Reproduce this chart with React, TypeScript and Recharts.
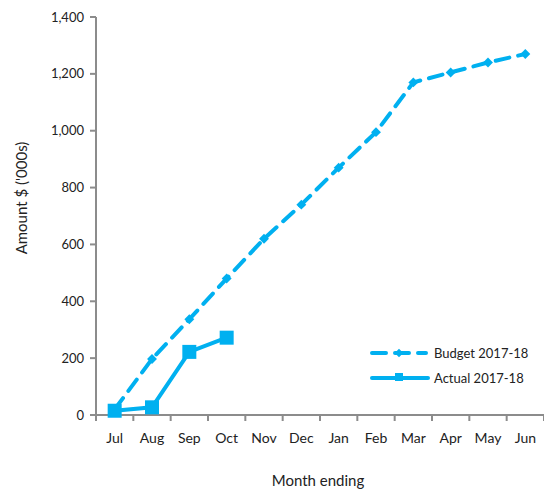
import React from 'react';
import { LineChart, Line, XAxis, YAxis, Label } from 'recharts';

const months = ['Jul', 'Aug', 'Sep', 'Oct', 'Nov', 'Dec', 'Jan', 'Feb', 'Mar', 'Apr', 'May', 'Jun'];
const budget = [20, 197, 337, 480, 620, 740, 870, 995, 1170, 1205, 1240, 1270];
const actual: (number | null)[] = [15, 27, 222, 272, null, null, null, null, null, null, null, null];
const yTicks = [0, 200, 400, 600, 800, 1000, 1200, 1400];

const data = months.map((m, i) => ({ month: m, budget: budget[i], actual: actual[i] }));

const COLOR = '#00B0F0';
const AXIS = '#8c8c8c';
const FONT = 'Lato, "Open Sans", sans-serif';
const BAND = 448 / 12;

const BudgetDot = (props: any) => {
  const { cx, cy } = props;
  if (cx == null || cy == null) return null;
  return <rect x={cx - 3.5} y={cy - 3.5} width={7} height={7} fill={COLOR} transform={`rotate(45 ${cx} ${cy})`} />;
};

const ActualDot = (props: any) => {
  const { cx, cy } = props;
  if (cx == null || cy == null) return null;
  return <rect x={cx - 7} y={cy - 7} width={14} height={14} fill={COLOR} />;
};

const MonthTick = (props: any) => {
  const { x, y, payload, index } = props;
  const axisY = y - 14;
  return (
    <g>
      <line x1={x - BAND / 2} y1={axisY} x2={x - BAND / 2} y2={axisY + 6} stroke={AXIS} strokeWidth={2} />
      {index === months.length - 1 && (
        <line x1={x + BAND / 2} y1={axisY} x2={x + BAND / 2} y2={axisY + 6} stroke={AXIS} strokeWidth={2} />
      )}
      <text x={x} y={axisY + 28} textAnchor="middle" fontSize={14} fill="#222" fontFamily={FONT}>
        {payload.value}
      </text>
    </g>
  );
};

const LegendBox = () => (
  <svg width={180} height={80} style={{ position: 'absolute', left: 368, top: 340, overflow: 'visible' }}>
    <line x1={4} y1={13} x2={58} y2={13} stroke={COLOR} strokeWidth={4} strokeDasharray="14 9" strokeLinecap="round" />
    <rect x={28} y={10} width={6} height={6} fill={COLOR} transform="rotate(45 31 13)" />
    <text x={66} y={18} fontSize={13} fill="#222" fontFamily={FONT}>Budget 2017-18</text>
    <line x1={4} y1={38} x2={60} y2={38} stroke={COLOR} strokeWidth={4} strokeLinecap="round" />
    <rect x={27} y={33} width={8} height={8} fill={COLOR} />
    <text x={66} y={43} fontSize={13} fill="#222" fontFamily={FONT}>Actual 2017-18</text>
  </svg>
);

export default function App() {
  return (
    <div style={{ position: 'absolute', left: 0, top: 0, width: 544, height: 490, background: '#fff' }}>
      <LineChart width={544} height={490} data={data} margin={{ top: 17, right: 0, bottom: 0, left: 0 }}>
        <XAxis
          dataKey="month"
          height={75}
          padding={{ left: BAND / 2, right: BAND / 2 }}
          stroke={AXIS}
          strokeWidth={2}
          tickLine={false}
          tickSize={6}
          tickMargin={8}
          tick={<MonthTick />}
          interval={0}
        >
          <Label
            content={() => (
              <text x={318} y={486} textAnchor="middle" fontSize={15} fill="#222" fontFamily={FONT}>
                Month ending
              </text>
            )}
          />
        </XAxis>
        <YAxis
          width={96}
          domain={[0, 1400]}
          ticks={yTicks}
          stroke={AXIS}
          strokeWidth={2}
          tickSize={6}
          tickMargin={6}
          tick={{ fill: '#222', fontSize: 13, fontFamily: FONT }}
          tickFormatter={(v: number) => v.toLocaleString('en-US')}
        >
          <Label
            content={() => (
              <text x={27} y={198} textAnchor="middle" fontSize={15} fill="#222" fontFamily={FONT} transform="rotate(-90 27 198)">
                Amount $ ('000s)
              </text>
            )}
          />
        </YAxis>
        <Line
          dataKey="budget"
          stroke={COLOR}
          strokeWidth={4}
          strokeDasharray="14 9"
          strokeLinecap="round"
          dot={<BudgetDot />}
          activeDot={false}
          isAnimationActive={false}
        />
        <Line
          dataKey="actual"
          stroke={COLOR}
          strokeWidth={4}
          dot={<ActualDot />}
          activeDot={false}
          isAnimationActive={false}
          connectNulls={false}
        />
      </LineChart>
      <LegendBox />
    </div>
  );
}
